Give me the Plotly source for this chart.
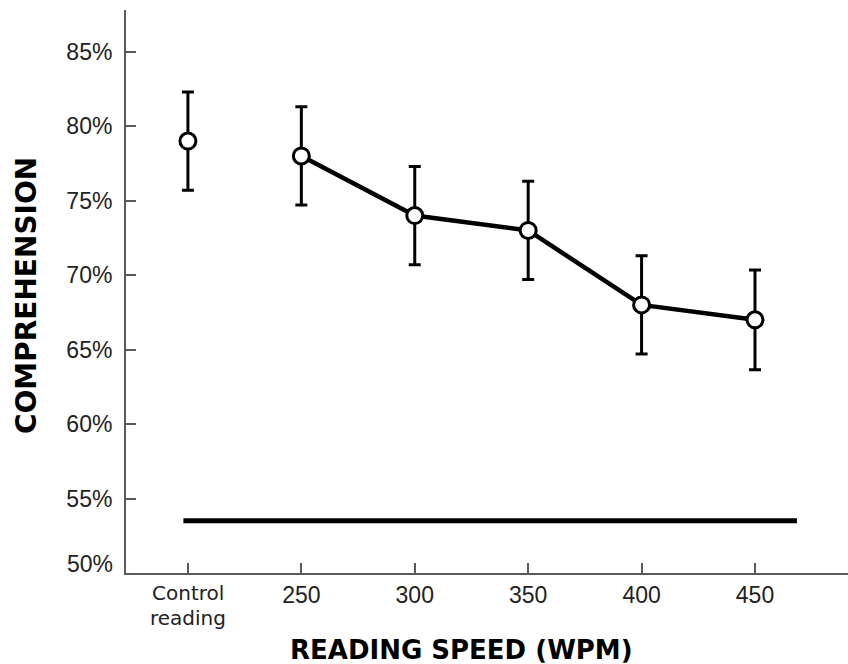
import plotly.graph_objects as go

# Data
control_x = [200]
control_label = ["Control", "reading"]
control_value = [79.0]
control_err = [3.3]

speeds = [250, 300, 350, 400, 450]
comprehension = [78.0, 74.0, 73.0, 68.0, 67.0]
comprehension_err = [3.3, 3.3, 3.3, 3.3, 3.35]

chance_level = 53.5
chance_x = [198, 468.5]

y_tickvals = [55, 60, 65, 70, 75, 80, 85]
y_ticktext = ["55%", "60%", "65%", "70%", "75%", "80%", "85%"]
x_tickvals = control_x + speeds
x_ticktext = [""] + [str(s) for s in speeds]

marker_style = dict(symbol="circle", size=16, color="white",
                    line=dict(color="black", width=3))
err_style = dict(type="data", thickness=3, width=6, color="black")

fig = go.Figure()

fig.add_trace(go.Scatter(
    x=chance_x, y=[chance_level, chance_level], mode="lines",
    line=dict(color="black", width=5), showlegend=False, hoverinfo="skip"))

fig.add_trace(go.Scatter(
    x=control_x, y=control_value, mode="markers",
    marker=marker_style,
    error_y=dict(array=control_err, **err_style),
    showlegend=False))

fig.add_trace(go.Scatter(
    x=speeds, y=comprehension, mode="lines+markers",
    line=dict(color="black", width=4.5),
    marker=marker_style,
    error_y=dict(array=comprehension_err, **err_style),
    showlegend=False))

tick_font = dict(family="Liberation Sans, Arial, sans-serif", size=23, color="#222222")
ctrl_font = dict(family="DejaVu Sans, Verdana, sans-serif", size=20, color="#222222")
xtitle_font = dict(family="DejaVu Sans, Verdana, sans-serif", size=26, color="black")
ytitle_font = dict(family="DejaVu Sans, Verdana, sans-serif", size=28, color="black")

W, H = 848, 664
L, T, B = 126, 10, 91
plot_w = W - L
plot_h = H - T - B

fig.update_layout(
    width=W, height=H,
    margin=dict(l=L, r=0, t=T, b=B),
    paper_bgcolor="white", plot_bgcolor="white",
    xaxis=dict(
        range=[172.7, 491.0], tickvals=x_tickvals, ticktext=x_ticktext,
        showgrid=False, zeroline=False, showline=True, linecolor="#5a5a5a",
        linewidth=2, ticks="inside", ticklen=10, tickwidth=2, tickcolor="#5a5a5a",
        tickfont=tick_font),
    yaxis=dict(
        range=[50, 87.8], tickvals=y_tickvals, ticktext=y_ticktext,
        showgrid=False, zeroline=False, showline=True, linecolor="#5a5a5a",
        linewidth=2, ticks="inside", ticklen=10, tickwidth=2, tickcolor="#5a5a5a",
        tickfont=tick_font, ticklabelstandoff=7),
    annotations=[
        dict(text="50%", xref="paper", yref="y", x=0, y=50, xanchor="right",
             yanchor="bottom", xshift=-11, yshift=-6, showarrow=False, font=tick_font),
        dict(text=control_label[0], xref="x", yref="paper", x=control_x[0], y=0,
             xanchor="center", yanchor="middle", yshift=-20, showarrow=False,
             font=ctrl_font),
        dict(text=control_label[1], xref="x", yref="paper", x=control_x[0], y=0,
             xanchor="center", yanchor="middle", yshift=-45, showarrow=False,
             font=ctrl_font),
        dict(text="<b>READING SPEED (WPM)</b>", xref="paper", yref="paper",
             x=(461 - L) / plot_w, y=0, xanchor="center", yanchor="middle",
             yshift=-77, showarrow=False, font=xtitle_font),
        dict(text="<b>COMPREHENSION</b>", xref="paper", yref="paper",
             x=0, y=(573 - 296) / plot_h, xanchor="center", yanchor="middle",
             xshift=-100, textangle=-90, showarrow=False, font=ytitle_font),
    ],
)

fig.write_html(
    "out.html",
    config={"displayModeBar": False},
    post_script="document.body.style.margin='0';document.body.style.overflow='hidden';",
)
